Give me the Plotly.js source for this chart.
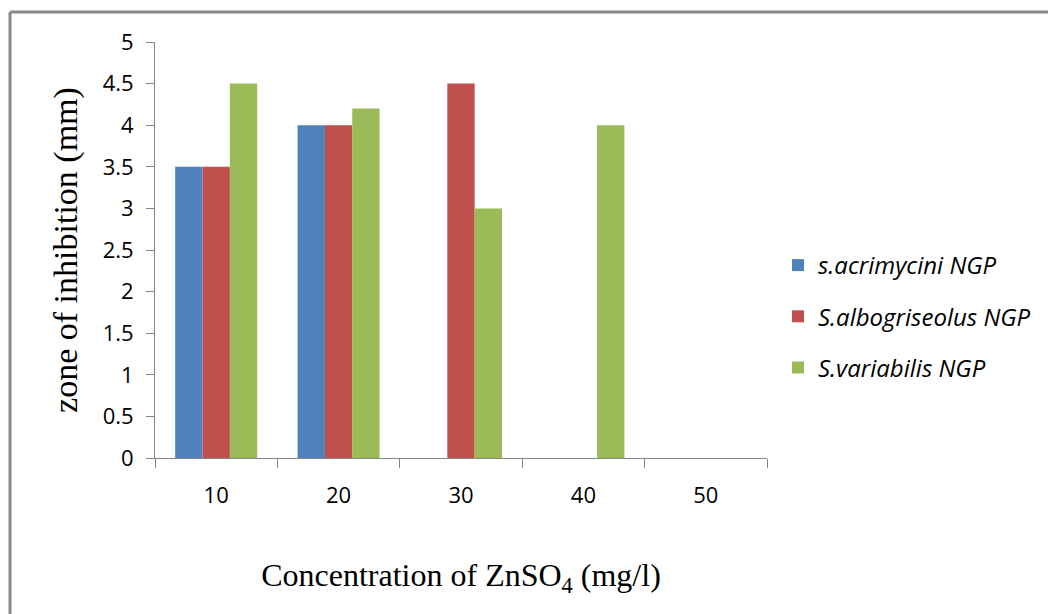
<!DOCTYPE html>
<html>
<head>
<meta charset="utf-8">
<script src="https://cdn.plot.ly/plotly-3.0.1.min.js"></script>
<style>
html,body{margin:0;padding:0;background:#fff;}
#chart{width:1048px;height:614px;}
</style>
</head>
<body>
<div id="chart"></div>
<script>
const categories = ["10", "20", "30", "40", "50"];
const seriesNames = ["s.acrimycini NGP", "S.albogriseolus NGP", "S.variabilis NGP"];
const acrimycini = [3.5, 4, 0, 0, 0];
const albogriseolus = [3.5, 4, 4.5, 0, 0];
const variabilis = [4.5, 4.2, 3, 4, 0];
const yTicks = [0, 0.5, 1, 1.5, 2, 2.5, 3, 3.5, 4, 4.5, 5];
const colors = ["#4F81BD", "#C0504D", "#9BBB59"];

const values = [acrimycini, albogriseolus, variabilis];
const traces = values.map((v, i) => ({
  type: "bar",
  x: categories,
  y: v,
  name: seriesNames[i],
  legendgroup: "g" + i,
  marker: {color: colors[i], line: {width: 0}}
}));

const W = 1048, H = 614, L = 155, R = 281, T = 42, B = 156;
const pw = W - L - R, ph = H - T - B;
const px = p => (p - L) / pw;
const py = p => (H - B - p) / ph;

const layout = {
  width: W, height: H,
  margin: {l: L, r: R, t: T, b: B, pad: 0},
  paper_bgcolor: "#ffffff",
  plot_bgcolor: "#ffffff",
  barmode: "group",
  bargap: 0.33,
  bargroupgap: 0,
  showlegend: true,
  legend: {
    x: px(778), xanchor: "left",
    y: py(243), yanchor: "top",
    font: {family: "Open Sans", size: 24, style: "italic", color: "#000"},
    tracegroupgap: 17,
    itemwidth: 30,
    bgcolor: "rgba(0,0,0,0)"
  },
  xaxis: {
    type: "category",
    tickson: "boundaries",
    ticks: "outside",
    ticklen: 9,
    tickcolor: "#868686",
    showline: true,
    linecolor: "#868686",
    linewidth: 1,
    showgrid: false,
    zeroline: false,
    ticklabelstandoff: 18,
    tickfont: {family: "Open Sans", size: 22, color: "#000"},
    title: {
      text: "Concentration of ZnSO<sub>4</sub> (mg/l)",
      font: {family: "Liberation Serif", size: 32, color: "#000"},
      standoff: 55
    }
  },
  yaxis: {
    range: [0, 5],
    tickvals: yTicks,
    ticktext: yTicks.map(String),
    ticks: "outside",
    ticklen: 8,
    tickcolor: "#868686",
    showline: true,
    linecolor: "#868686",
    linewidth: 1,
    showgrid: false,
    zeroline: false,
    ticklabelstandoff: 8,
    tickfont: {family: "Open Sans", size: 22, color: "#000"},
    title: {
      text: "zone of inhibition (mm)",
      font: {family: "Liberation Serif", size: 34, color: "#000"},
      standoff: 14
    }
  },
  shapes: [
    {type: "line", xref: "paper", yref: "paper", x0: px(10), x1: px(1060), y0: py(12), y1: py(12),
     line: {color: "#8a8a8a", width: 3}},
    {type: "line", xref: "paper", yref: "paper", x0: px(10), x1: px(10), y0: py(12), y1: py(630),
     line: {color: "#8a8a8a", width: 3}}
  ]
};

Plotly.newPlot("chart", traces, layout, {displayModeBar: false, staticPlot: true});
</script>
</body>
</html>
